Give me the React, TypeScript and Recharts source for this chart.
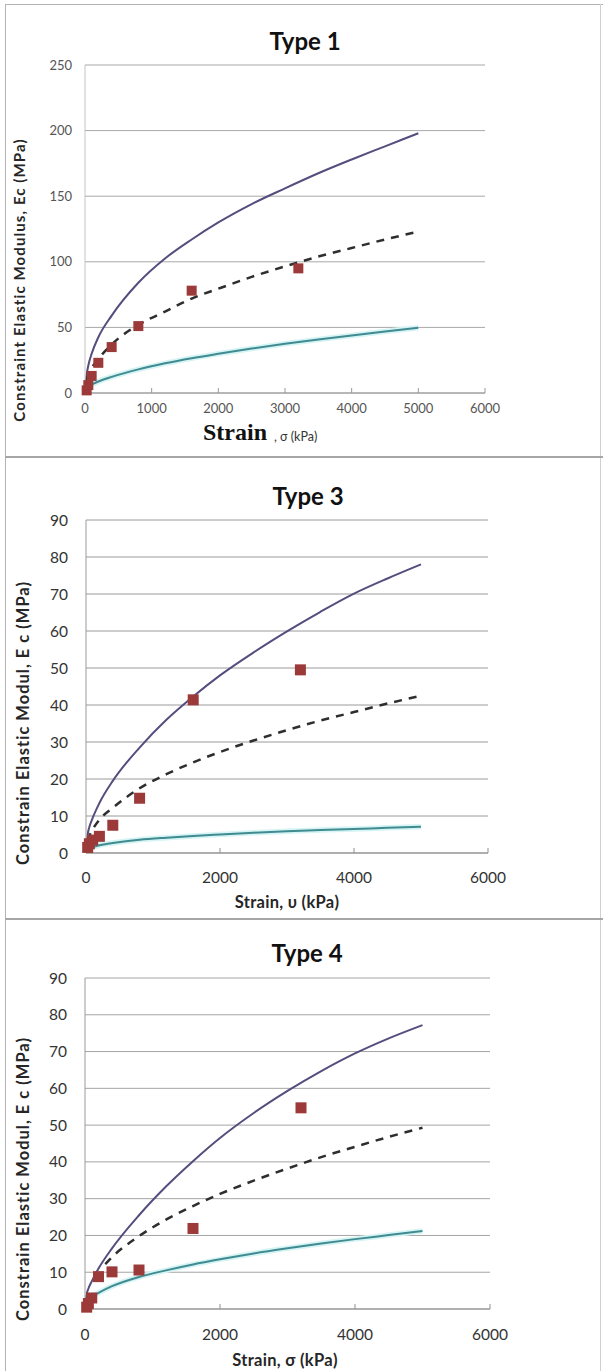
import React from 'react';
import { ComposedChart, Line, Scatter, XAxis, YAxis, CartesianGrid, Label } from 'recharts';

// ---------- data ----------
// stress values (kPa) at which each fitted curve was read off the picture
const UPPER_X = [0, 25, 50, 100, 200, 400, 800, 1200, 1600, 2000, 2500, 3000, 3500, 4000, 4500, 5000];
const CURVE_X = [25, 50, 100, 200, 400, 800, 1200, 1600, 2000, 2500, 3000, 3500, 4000, 4500, 5000];
// oedometer load steps (kPa) of the measured points
const LOAD_X = [25, 50, 100, 200, 400, 800, 1600, 3200];

const T1_X_TICKS = [0, 1000, 2000, 3000, 4000, 5000, 6000];
const T1_Y_TICKS = [0, 50, 100, 150, 200, 250];
const T1_UPPER = [0, 14, 21, 30, 42.5, 59, 84, 102.5, 117, 130, 144, 156, 167.5, 178, 188, 198];
const T1_MEAN = [10, 14, 19, 26, 37, 52, 62, 72, 79.5, 88.5, 96.5, 104, 110.5, 117, 123];
const T1_LOWER = [4.5, 5.2, 6.5, 8.8, 12.3, 18, 22.6, 26.5, 29.9, 33.9, 37.5, 40.8, 43.9, 46.9, 49.7];
const T1_MEASURED = [2, 6, 13, 23, 35, 51, 78, 95];

const T34_X_TICKS = [0, 2000, 4000, 6000];
const T34_Y_TICKS = [0, 10, 20, 30, 40, 50, 60, 70, 80, 90];

const T3_UPPER = [0, 5, 7, 9.5, 13.5, 19.5, 28.5, 36, 42.3, 48, 54.2, 59.9, 65.2, 70.1, 74.2, 78];
const T3_MEAN = [3.3, 4.6, 6.4, 9, 12.2, 17.5, 21.3, 24.5, 27.3, 30.4, 33.2, 35.8, 38.1, 40.4, 42.5];
const T3_LOWER = [1, 1.26, 1.6, 2.1, 2.7, 3.6, 4.15, 4.6, 5, 5.5, 5.9, 6.2, 6.5, 6.8, 7.1];
const T3_MEASURED = [1.5, 2.5, 3.5, 4.5, 7.5, 14.8, 41.4, 49.5];

const T4_UPPER = [0, 4, 5.5, 7.5, 11, 16.5, 25.5, 33.3, 40.2, 46.5, 53.3, 59.3, 64.7, 69.5, 73.6, 77.2];
const T4_MEAN_X = [300, 400, 800, 1200, 1600, 2000, 2500, 3000, 3500, 4000, 4500, 5000];
const T4_MEAN = [12.2, 14.1, 19.8, 24.3, 28, 31.3, 34.9, 38.2, 41.3, 44.1, 46.8, 49.3];
const T4_LOWER = [2.2, 2.7, 3.4, 4.4, 6.2, 8.7, 10.5, 12.1, 13.5, 15.1, 16.5, 17.8, 19, 20.1, 21.2];
const T4_MEASURED = [0.5, 1.5, 3, 8.8, 10.1, 10.6, 21.9, 54.7];

// ---------- helpers ----------
const pts = (xs: number[], ys: number[]) => xs.map((x, i) => ({ x, y: ys[i] }));

const PURPLE = '#564d7e';
const TEAL = '#3f8b91';
const TEAL_GLOW = '#d6f4f4';
const DASH = '#2e2e2e';
const RED = '#9c3a3a';

const squareShape = (size: number) => (p: any) => (
  <rect x={p.cx - size / 2} y={p.cy - size / 2} width={size} height={size} fill={RED} />
);

type PanelProps = {
  top: number;
  height: number;
  title: string;
  titleCx: number;
  titleBaseline: number;
  plot: { left: number; right: number; top: number; bottom: number };
  yMax: number;
  yTicks: number[];
  xTicks: number[];
  upper: { x: number; y: number }[];
  mean: { x: number; y: number }[];
  lower: { x: number; y: number }[];
  measured: { x: number; y: number }[];
  tickFontSize: number;
  tickFill: string;
  yTickGap: number;
  xTickMargin: number;
  axisStroke: string;
  yAxisStroke: string;
  gridStroke: string;
  squareSize: number;
  yLabel: React.ReactNode;
  xLabel: React.ReactNode;
};

function Panel(p: PanelProps) {
  const titleTop = p.titleBaseline - p.top - 21.3;
  return (
    <div style={{ position: 'absolute', left: 0, top: p.top, width: 603, height: p.height }}>
      <ComposedChart
        width={603}
        height={p.height}
        margin={{ top: p.plot.top, right: 603 - p.plot.right, bottom: 0, left: 0 }}
      >
        <CartesianGrid vertical={false} stroke={p.gridStroke} />
        <XAxis
          type="number"
          dataKey="x"
          domain={[0, 6000]}
          ticks={p.xTicks}
          interval={0}
          height={p.height - p.plot.bottom}
          tickSize={-5}
          tickMargin={p.xTickMargin}
          stroke={p.axisStroke}
          tick={{ fontSize: p.tickFontSize, fill: p.tickFill, fontFamily: 'Lato' }}
        >
          <Label content={() => p.xLabel} />
        </XAxis>
        <YAxis
          type="number"
          dataKey="y"
          domain={[0, p.yMax]}
          ticks={p.yTicks}
          interval={0}
          width={p.plot.left}
          tickLine={false}
          tickSize={0}
          tickMargin={p.yTickGap}
          stroke={p.yAxisStroke}
          tick={{ fontSize: p.tickFontSize, fill: p.tickFill, fontFamily: 'Lato' }}
        >
          <Label content={() => p.yLabel} />
        </YAxis>
        <Line data={p.lower} dataKey="y" type="monotone" stroke={TEAL_GLOW} strokeWidth={5.5} dot={false} isAnimationActive={false} name="Lower glow" />
        <Line data={p.lower} dataKey="y" type="monotone" stroke={TEAL} strokeWidth={2} dot={false} isAnimationActive={false} name="Lower bound" />
        <Line data={p.upper} dataKey="y" type="monotone" stroke={PURPLE} strokeWidth={2} dot={false} isAnimationActive={false} name="Upper bound" />
        <Line data={p.mean} dataKey="y" type="monotone" stroke={DASH} strokeWidth={2.5} strokeDasharray="8 7" dot={false} isAnimationActive={false} name="Fit" />
        <Scatter data={p.measured} dataKey="y" shape={squareShape(p.squareSize)} isAnimationActive={false} name="Measured" />
      </ComposedChart>
      <div
        style={{
          position: 'absolute',
          left: p.titleCx - 100,
          width: 200,
          top: titleTop,
          textAlign: 'center',
          fontFamily: 'Lato',
          fontWeight: 700,
          fontSize: 24,
          lineHeight: '24px',
          color: '#111',
        }}
      >
        {p.title}
      </div>
    </div>
  );
}

const yLab = (text: string, cx: number, cy: number, size: number, spacing: number) => (
  <text
    x={cx}
    y={cy}
    transform={`rotate(-90 ${cx} ${cy})`}
    textAnchor="middle"
    dominantBaseline="central"
    fontFamily="Lato"
    fontWeight={700}
    fontSize={size}
    letterSpacing={spacing}
    fill="#262626"
  >
    {text}
  </text>
);

const xLabSimple = (text: string, cx: number, baseline: number) => (
  <text x={cx} y={baseline} textAnchor="middle" fontFamily="Lato" fontWeight={700} fontSize={16.5} letterSpacing={0.3} fill="#262626">
    {text}
  </text>
);

export default function App() {
  const line = (style: React.CSSProperties) => <div style={{ position: 'absolute', background: '#b4b4b4', ...style }} />;
  return (
    <div style={{ position: 'absolute', left: 0, top: 0, width: 603, height: 1371, background: '#fff', overflow: 'hidden' }}>
      <Panel
        top={0}
        height={457}
        title="Type 1"
        titleCx={305}
        titleBaseline={50}
        plot={{ left: 85, right: 485, top: 65, bottom: 393 }}
        yMax={250}
        yTicks={T1_Y_TICKS}
        xTicks={T1_X_TICKS}
        upper={pts(UPPER_X, T1_UPPER)}
        mean={pts(CURVE_X, T1_MEAN)}
        lower={pts(CURVE_X, T1_LOWER)}
        measured={pts(LOAD_X, T1_MEASURED)}
        tickFontSize={13}
        tickFill="#555"
        yTickGap={13}
        xTickMargin={16}
        axisStroke="#9a9a9a"
        yAxisStroke="#c4c4c4"
        gridStroke="#a8a8a8"
        squareSize={10}
        yLabel={yLab('Constraint Elastic Modulus, Ec (MPa)', 19, 280, 15, 1.1)}
        xLabel={
          <g>
            <text x={203} y={440} fontFamily="Liberation Serif" fontWeight={700} fontSize={24} fill="#111">
              Strain
            </text>
            <text x={274} y={441} fontFamily="Lato" fontSize={12.5} fill="#333">
              , σ (kPa)
            </text>
          </g>
        }
      />
      <Panel
        top={457}
        height={462}
        title="Type 3"
        titleCx={308}
        titleBaseline={505}
        plot={{ left: 86, right: 488, top: 63, bottom: 396 }}
        yMax={90}
        yTicks={T34_Y_TICKS}
        xTicks={T34_X_TICKS}
        upper={pts(UPPER_X, T3_UPPER)}
        mean={pts(CURVE_X, T3_MEAN)}
        lower={pts(CURVE_X, T3_LOWER)}
        measured={pts(LOAD_X, T3_MEASURED)}
        tickFontSize={15.5}
        tickFill="#333"
        yTickGap={18}
        xTickMargin={24}
        axisStroke="#8f8f8f"
        yAxisStroke="#9a9a9a"
        gridStroke="#9a9a9a"
        squareSize={11}
        yLabel={yLab('Constrain Elastic Modul, E c (MPa)', 23, 266, 16.5, 1)}
        xLabel={xLabSimple('Strain, υ (kPa)', 287, 451)}
      />
      <Panel
        top={919}
        height={452}
        title="Type 4"
        titleCx={307}
        titleBaseline={962}
        plot={{ left: 85, right: 490, top: 59, bottom: 390 }}
        yMax={90}
        yTicks={T34_Y_TICKS}
        xTicks={T34_X_TICKS}
        upper={pts(UPPER_X, T4_UPPER)}
        mean={pts(T4_MEAN_X, T4_MEAN)}
        lower={pts(CURVE_X, T4_LOWER)}
        measured={pts(LOAD_X, T4_MEASURED)}
        tickFontSize={15.5}
        tickFill="#333"
        yTickGap={18}
        xTickMargin={25}
        axisStroke="#8f8f8f"
        yAxisStroke="#9a9a9a"
        gridStroke="#a4a4a4"
        squareSize={11}
        yLabel={yLab('Constrain Elastic Modul, E c (MPa)', 23, 260, 16.5, 1)}
        xLabel={xLabSimple('Strain, σ (kPa)', 285, 447)}
      />
      {line({ left: 5, top: 4, width: 598, height: 1 })}
      {line({ left: 5, top: 4, width: 1, height: 1367 })}
      {line({ left: 600, top: 4, width: 1, height: 1367, background: '#d0d0d0' })}
      {line({ left: 5, top: 456, width: 598, height: 2, background: '#a6a6a6' })}
      {line({ left: 5, top: 918, width: 598, height: 2, background: '#a6a6a6' })}
    </div>
  );
}
